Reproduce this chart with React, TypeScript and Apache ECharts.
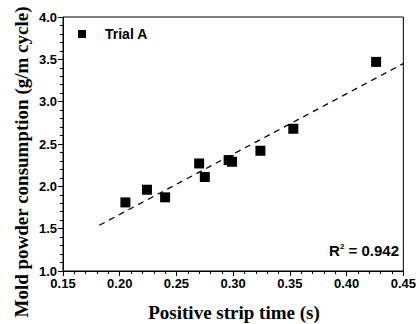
import React, { useEffect, useRef } from "react";
import * as echarts from "echarts";

const stripTime = [0.205, 0.224, 0.240, 0.270, 0.275, 0.296, 0.299, 0.324, 0.353, 0.426];
const consumption = [1.81, 1.96, 1.87, 2.27, 2.11, 2.31, 2.29, 2.42, 2.68, 3.47];
const fitX = [0.182, 0.45];
const fitY = [1.54, 3.45];
const seriesName = "Trial A";
const r2Label = "0.942";

export default function App() {
  const ref = useRef<HTMLDivElement>(null);
  useEffect(() => {
    if (!ref.current) return;
    const chart = echarts.init(ref.current, undefined, { renderer: "svg" });
    const sans = "Liberation Sans, Arial, sans-serif";
    const serif = "Liberation Serif, Times New Roman, serif";
    chart.setOption({
      animation: false,
      backgroundColor: "#fff",
      grid: {
        left: 63,
        right: 14,
        top: 17,
        bottom: 53,
        show: true,
        borderColor: "#000",
        borderWidth: 1,
        backgroundColor: "transparent",
      },
      legend: {
        data: [{ name: seriesName, icon: "rect" }],
        left: 73,
        top: 22,
        itemWidth: 8,
        itemHeight: 8,
        itemStyle: { opacity: 1 },
        textStyle: { fontFamily: sans, fontWeight: "bold", fontSize: 14, color: "#000", padding: [0, 0, 0, 14] },
      },
      xAxis: {
        type: "value",
        min: 0.15,
        max: 0.45,
        interval: 0.05,
        axisLine: { show: true, onZero: false, lineStyle: { color: "#000", width: 1 } },
        axisTick: { show: true, inside: false, length: 5, lineStyle: { color: "#000" } },
        minorTick: { show: true, splitNumber: 5, length: 3, lineStyle: { color: "#000" } },
        splitLine: { show: false },
        axisLabel: {
          formatter: (v: number) => v.toFixed(2),
          fontFamily: sans,
          fontWeight: "bold",
          fontSize: 13,
          color: "#000",
          margin: 6,
        },
      },
      yAxis: {
        type: "value",
        min: 1,
        max: 4,
        interval: 0.5,
        axisLine: { show: true, onZero: false, lineStyle: { color: "#000", width: 1 } },
        axisTick: { show: true, inside: false, length: 5, lineStyle: { color: "#000" } },
        minorTick: { show: true, splitNumber: 5, length: 3, lineStyle: { color: "#000" } },
        splitLine: { show: false },
        axisLabel: {
          formatter: (v: number) => v.toFixed(1),
          fontFamily: sans,
          fontWeight: "bold",
          fontSize: 13,
          color: "#000",
          margin: 6,
        },
      },
      series: [
        {
          name: seriesName,
          type: "scatter",
          symbol: "rect",
          symbolSize: 10,
          itemStyle: { color: "#000", opacity: 1 },
          data: stripTime.map((x, i) => [x, consumption[i]]),
          z: 3,
        },
        {
          name: "fit",
          type: "line",
          showSymbol: false,
          symbol: "none",
          lineStyle: { color: "#000", width: 1.3, type: [6, 5] },
          data: fitX.map((x, i) => [x, fitY[i]]),
          z: 2,
        },
      ],
      graphic: [
        {
          type: "text",
          right: 20,
          top: 242,
          style: {
            text: "{b|R}{s|2}{b| = " + r2Label + "}",
            rich: {
              b: { fontFamily: sans, fontWeight: "bold", fontSize: 15, color: "#000" },
              s: { fontFamily: sans, fontWeight: "bold", fontSize: 8, color: "#000", verticalAlign: "top", padding: [0, 0, 8, 0] },
            },
          },
        },
        {
          type: "text",
          x: 234,
          y: 312,
          style: {
            text: "Positive strip time (s)",
            fontFamily: serif,
            fontWeight: "bold",
            fontSize: 19,
            fill: "#000",
            align: "center",
            verticalAlign: "middle",
          },
        },
        {
          type: "text",
          x: 21,
          y: 162,
          rotation: Math.PI / 2,
          style: {
            text: "Mold powder consumption (g/m cycle)",
            fontFamily: serif,
            fontWeight: "bold",
            fontSize: 19,
            fill: "#000",
            align: "center",
            verticalAlign: "middle",
          },
        },
      ],
    });
    return () => chart.dispose();
  }, []);
  return <div ref={ref} style={{ width: 419, height: 324, position: "absolute", left: 0, top: 0 }} />;
}
